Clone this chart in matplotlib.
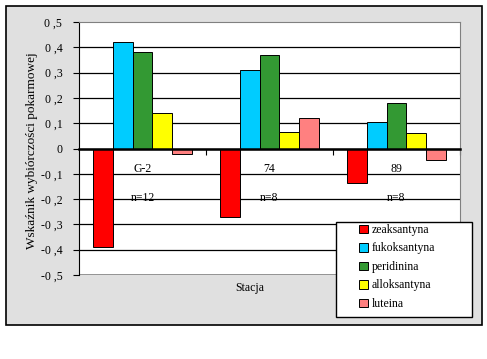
import numpy as np
import matplotlib
matplotlib.use("Agg")
import matplotlib.pyplot as plt
from matplotlib.patches import Rectangle

# dane
stacje = ["G-2", "74", "89"]
liczebnosc = ["n=12", "n=8", "n=8"]
barwniki = ["zeaksantyna", "fukoksantyna", "peridinina", "alloksantyna", "luteina"]
zeaksantyna = [-0.39, -0.27, -0.135]
fukoksantyna = [0.42, 0.31, 0.105]
peridinina = [0.38, 0.37, 0.18]
alloksantyna = [0.14, 0.065, 0.06]
luteina = [-0.02, 0.12, -0.045]
kolory = ["#FF0000", "#00CCFF", "#339933", "#FFFF00", "#FF8080"]

serie = [zeaksantyna, fukoksantyna, peridinina, alloksantyna, luteina]
plt.rcParams['font.family'] = ['Liberation Serif', 'DejaVu Serif']

W, H = 487, 359
fig = plt.figure(figsize=(W / 100, H / 100), dpi=100)
fig.patch.set_facecolor("white")

# szare tlo wykresu
tlo = Rectangle((6 / W, 1 - 325 / H), 476 / W, 319 / H, transform=fig.transFigure,
                facecolor="#E0E0E0", edgecolor="black", lw=1.2, zorder=-10)
fig.patches.append(tlo)
# ramka legendy
ramka = Rectangle((336 / W, 1 - 317 / H), 136 / W, 95 / H, transform=fig.transFigure,
                  facecolor="white", edgecolor="black", lw=1.0, zorder=5)
fig.patches.append(ramka)

ax = fig.add_axes([79 / W, 1 - 275 / H, 381 / W, 253 / H])
ax.set_facecolor("white")

x = np.arange(len(stacje))
szer = 0.155
for i, (wart, kol, nazwa) in enumerate(zip(serie, kolory, barwniki)):
    ax.bar(x + (i - 2) * szer, wart, szer, color=kol, edgecolor="black", lw=0.7,
           label=nazwa, zorder=3)

ax.set_xlim(-0.5, len(stacje) - 0.5)
ax.set_ylim(-0.5, 0.5)
yt = np.round(np.arange(-0.5, 0.51, 0.1), 1)
ax.set_yticks(yt)
ax.set_yticklabels([("0" if v == 0 else f"{v:.1f}".replace(".", " ,")) for v in yt], fontsize=8.5)
for v in yt[1:-1]:
    ax.axhline(v, color="black", lw=0.9, zorder=1)

ax.spines['bottom'].set_position(('data', 0))
ax.spines['bottom'].set_linewidth(1.8)
ax.spines['bottom'].set_zorder(4)
ax.set_xticks(list(x[:-1] + 0.5) + [len(stacje) - 0.5])
ax.set_xticklabels([])
ax.tick_params(axis='x', direction='out', length=4, width=0.8)
ax.tick_params(axis='y', direction='out', length=4, width=0.8, pad=8)
ax.spines['top'].set_color("#808080")
ax.spines['right'].set_color("#808080")
ax.axhline(-0.5, color="#808080", lw=1.2, zorder=2)

for xi, s, n in zip(x, stacje, liczebnosc):
    ax.text(xi, -0.08, s, ha="center", va="center", fontsize=8.5)
    ax.text(xi, -0.195, n, ha="center", va="center", fontsize=8.5)

ax.set_ylabel("Wskaźnik wybiórczości pokarmowej", fontsize=9.5)
ax.yaxis.set_label_coords(-0.107, 0.49)
ax.text(0.449, -0.05, "Stacja", transform=ax.transAxes, ha="center", va="center",
        fontsize=8.5)

leg = fig.legend(loc="upper left", bbox_to_anchor=(359 / W, 1 - 224 / H),
                 frameon=False, fontsize=8.5, handlelength=0.75, handleheight=0.75,
                 labelspacing=0.55, handletextpad=0.35, borderaxespad=0, borderpad=0)
leg.set_zorder(6)

fig.savefig("out.png", dpi=100)
